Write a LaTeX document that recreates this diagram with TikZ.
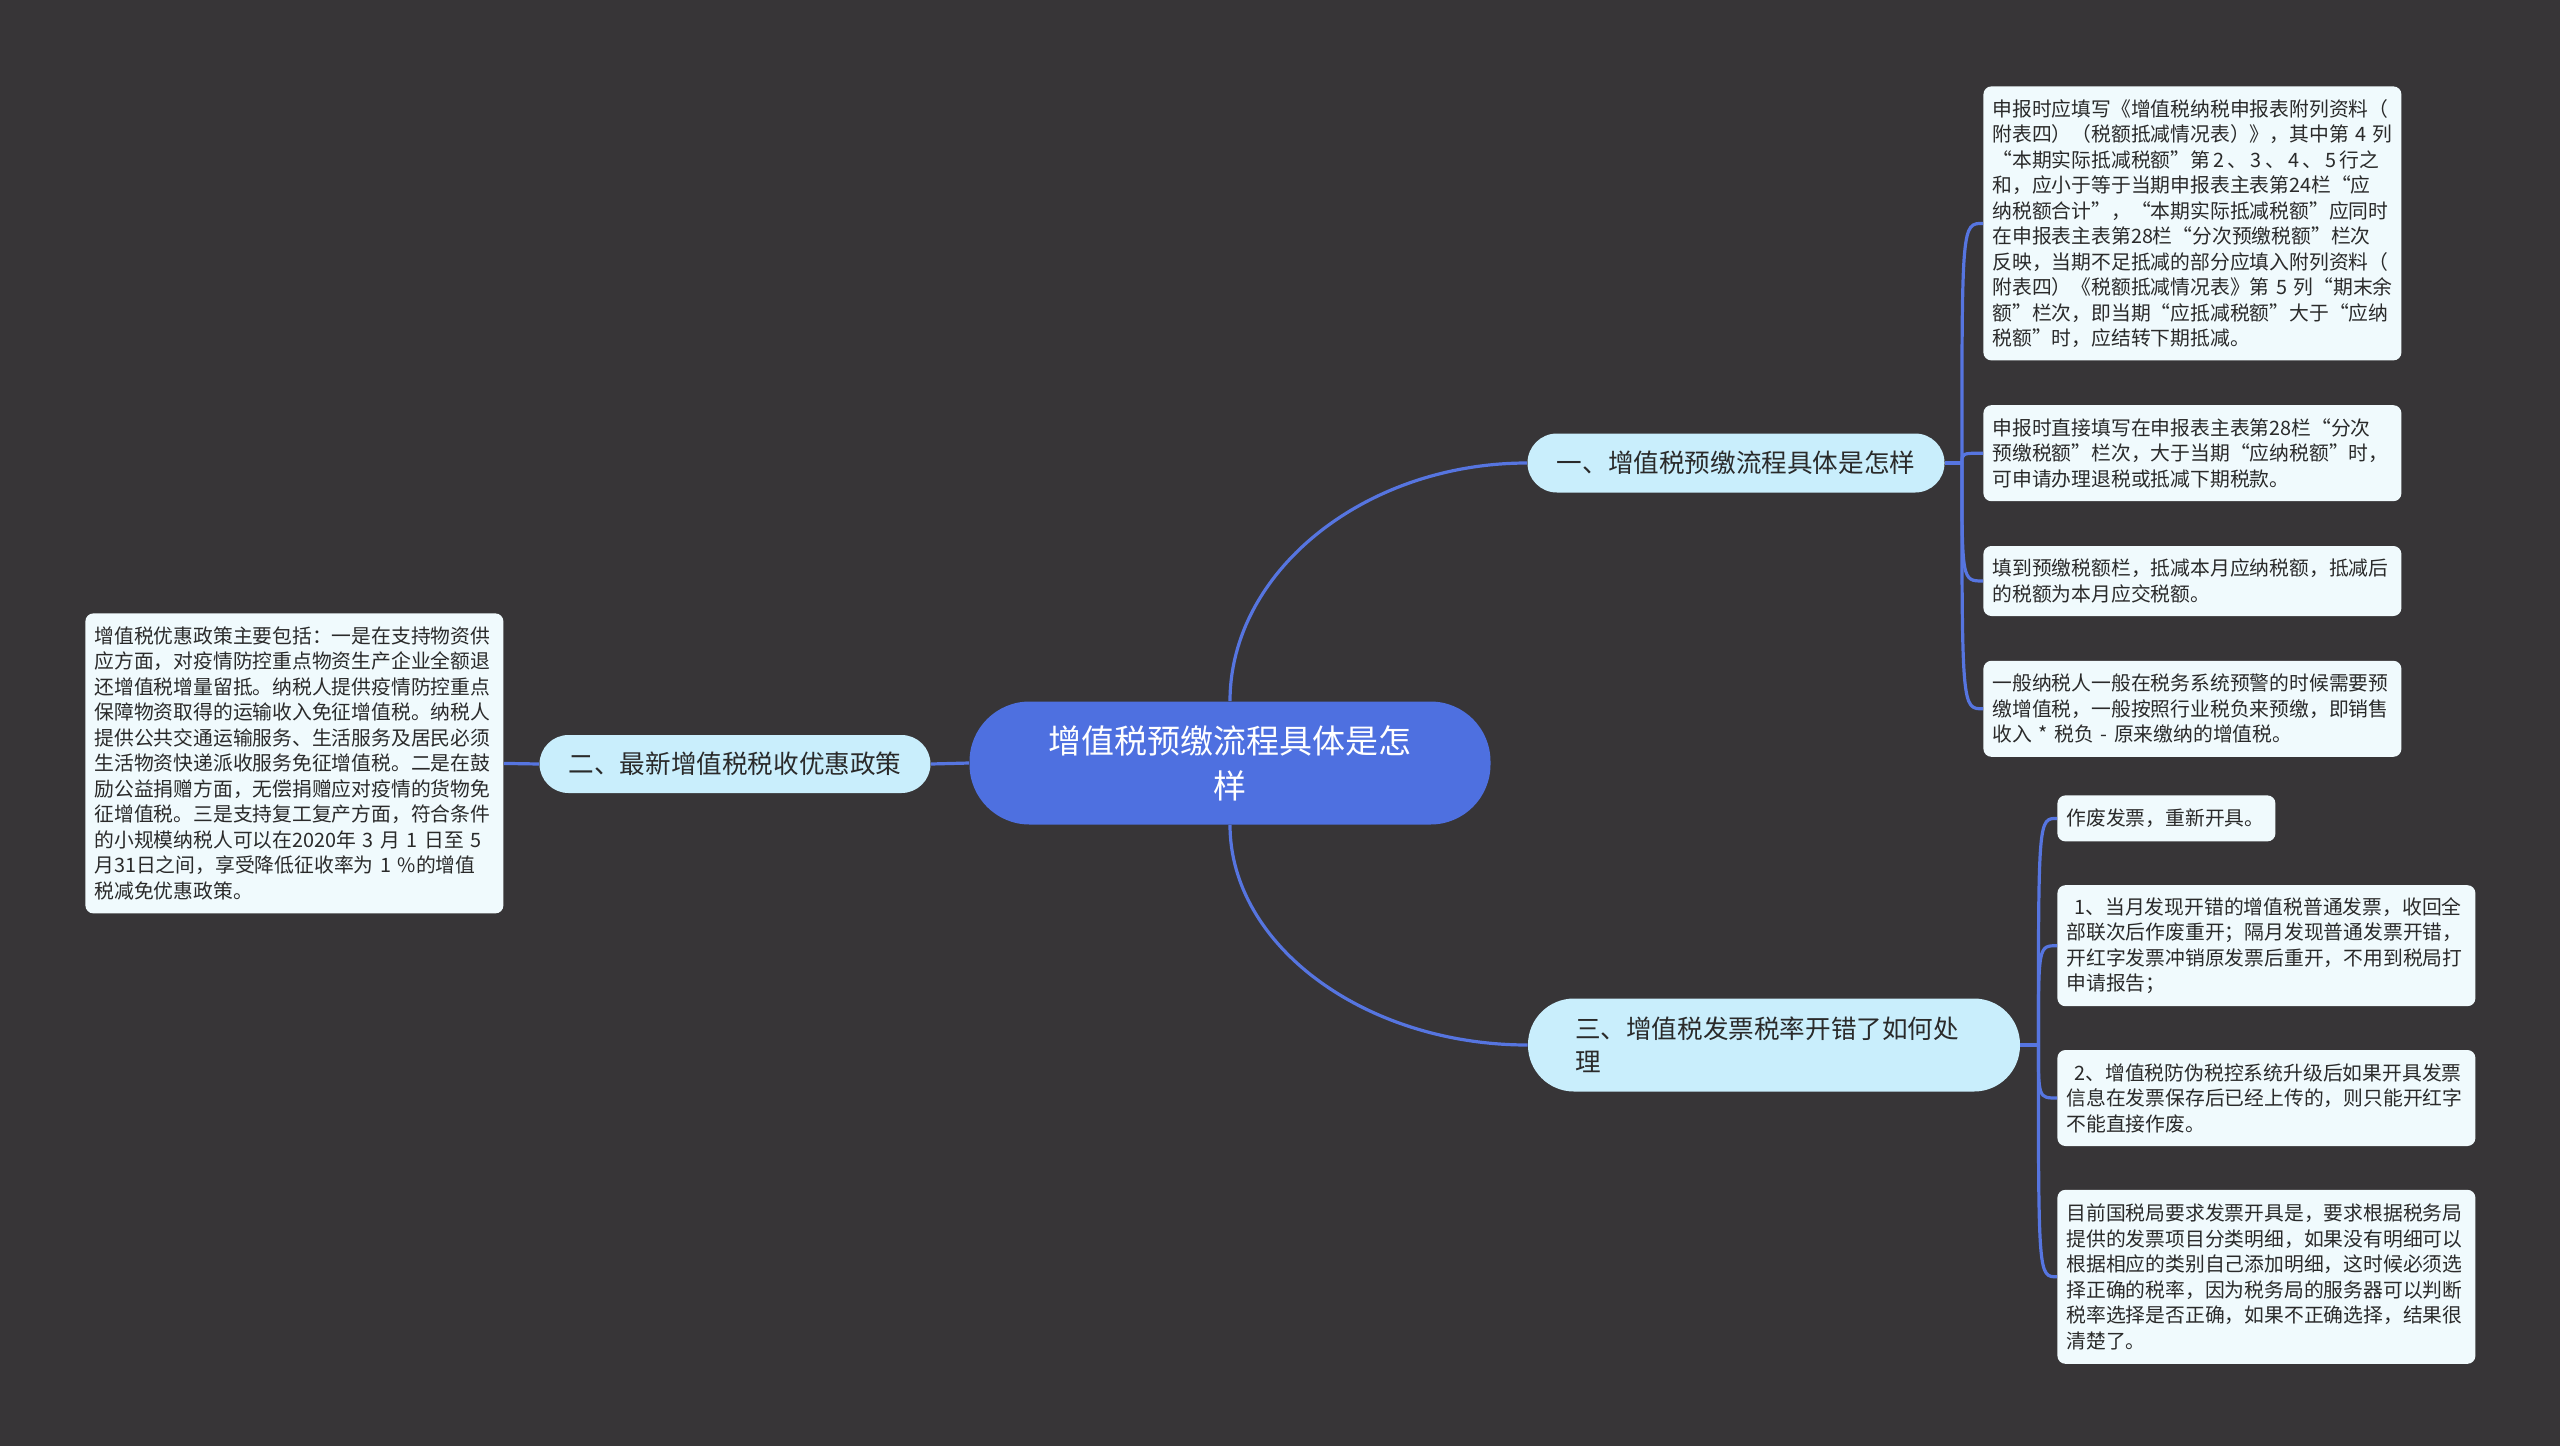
\documentclass[tikz,border=0pt]{standalone}
\usepackage{fontspec}
\setmainfont{Noto Sans CJK SC}
\usepackage{xcolor}
\definecolor{canvas}{HTML}{373537}
\definecolor{hubblue}{HTML}{4E70E0}
\definecolor{linkblue}{HTML}{5675E0}
\definecolor{topicfill}{HTML}{C9EEFC}
\definecolor{leaffill}{HTML}{F0FAFD}
\definecolor{inktext}{HTML}{2A2A2A}
\usetikzlibrary{positioning, calc}

\begin{document}
\begin{tikzpicture}[x=0.5pt, y=-0.5pt]
  \tikzstyle{hubnode}=[rectangle, rounded corners=30pt, fill=hubblue, text=white,
    minimum width=260.5pt, minimum height=61.5pt, align=center, inner sep=0pt,
    font=\fontsize{16.5}{22.5}\selectfont]
  \tikzstyle{topicbox}=[rectangle, fill=topicfill, text=inktext, inner sep=0pt,
    font=\fontsize{12.8}{16.5}\selectfont]
  \tikzstyle{leafbox}=[rectangle, rounded corners=4pt, fill=leaffill, text=inktext,
    text width=200pt, align=left, inner xsep=4.5pt, inner ysep=0pt,
    font=\fontsize{9.9}{12.75}\selectfont]
  \tikzstyle{link}=[line width=1.6pt, color=linkblue]
  \fill[canvas] (0,0) rectangle (2560,1446);
  % centre and main topics
  \node[hubnode] (hub) at (1230,763) {增值税预缴流程具体是怎\\样};
  \node[topicbox, rounded corners=14.7pt, minimum width=208.5pt, minimum height=29.5pt]
    (b1) at (1736,463) {一、增值税预缴流程具体是怎样};
  \node[topicbox, rounded corners=14.5pt, minimum width=195.5pt, minimum height=29pt]
    (b2) at (735,764) {二、最新增值税税收优惠政策};
  \node[topicbox, rounded corners=23pt, minimum width=246pt, minimum height=46.5pt,
    text width=199pt, align=left]
    (b3) at (1774,1045) {三、增值税发票税率开错了如何处\\理};
  % details of topic one
  \node[leafbox, minimum height=137pt, anchor=north west] (l1a) at (1983,86)
    {申报时应填写《增值税纳税申报表附列资料（\\附表四）（税额抵减情况表）》，其中第~4~列\\“本期实际抵减税额”第\,2\,、\,3\,、\,4\,、\,5\,行之\\和，应小于等于当期申报表主表第24栏“应\\纳税额合计”，“本期实际抵减税额”应同时\\在申报表主表第28栏“分次预缴税额”栏次\\反映，当期不足抵减的部分应填入附列资料（\\附表四）《税额抵减情况表》第~5~列“期末余\\额”栏次，即当期“应抵减税额”大于“应纳\\税额”时，应结转下期抵减。};
  \node[leafbox, minimum height=48pt, below=22pt of l1a] (l1b)
    {申报时直接填写在申报表主表第28栏“分次\\预缴税额”栏次，大于当期“应纳税额”时，\\可申请办理退税或抵减下期税款。};
  \node[leafbox, minimum height=35pt, below=22pt of l1b] (l1c)
    {填到预缴税额栏，抵减本月应纳税额，抵减后\\的税额为本月应交税额。};
  \node[leafbox, minimum height=48pt, below=22pt of l1c] (l1d)
    {一般纳税人一般在税务系统预警的时候需要预\\缴增值税，一般按照行业税负来预缴，即销售\\收入~*~税负~-~原来缴纳的增值税。};
  % details of topic two
  \node[leafbox, minimum height=150pt, anchor=north west] (l2) at (85,613)
    {增值税优惠政策主要包括：一是在支持物资供\\应方面，对疫情防控重点物资生产企业全额退\\还增值税增量留抵。纳税人提供疫情防控重点\\保障物资取得的运输收入免征增值税。纳税人\\提供公共交通运输服务、生活服务及居民必须\\生活物资快递派收服务免征增值税。二是在鼓\\励公益捐赠方面，无偿捐赠应对疫情的货物免\\征增值税。三是支持复工复产方面，符合条件\\的小规模纳税人可以在2020年~3~月~1~日至~5\\月31日之间，享受降低征收率为~1~\%的增值\\税减免优惠政策。};
  % details of topic three
  \node[leafbox, text width=100pt, minimum height=23pt, anchor=north west] (l3a) at (2057,795)
    {作废发票，重新开具。};
  \node[leafbox, minimum height=60.5pt, below=21.5pt of l3a.south west, anchor=north west] (l3b)
    {\hspace*{4pt}1、当月发现开错的增值税普通发票，收回全\\部联次后作废重开；隔月发现普通发票开错，\\开红字发票冲销原发票后重开，不用到税局打\\申请报告；};
  \node[leafbox, minimum height=48pt, below=21.5pt of l3b] (l3c)
    {\hspace*{4pt}2、增值税防伪税控系统升级后如果开具发票\\信息在发票保存后已经上传的，则只能开红字\\不能直接作废。};
  \node[leafbox, minimum height=87pt, below=21.5pt of l3c] (l3d)
    {目前国税局要求发票开具是，要求根据税务局\\提供的发票项目分类明细，如果没有明细可以\\根据相应的类别自己添加明细，这时候必须选\\择正确的税率，因为税务局的服务器可以判断\\税率选择是否正确，如果不正确选择，结果很\\清楚了。};
  % connectors
  \coordinate (j1) at ($(b1.east)+(17,0)$);
  \coordinate (j3) at ($(b3.east)+(18,0)$);
  \draw[link] (hub.north) .. controls +(0,-130) and +(-162,0) .. (b1.west);
  \draw[link] (hub.south) .. controls +(0,121) and +(-162,0) .. (b3.west);
  \draw[link] (hub.west) -- (b2.east);
  \draw[link] (b2.west) -- (l2.east);
  \draw[link] (b1.east) -- (j1);
  \draw[link] (j1) .. controls (j1 |- l1a.west) .. (l1a.west);
  \draw[link] (j1) .. controls (j1 |- l1b.west) .. (l1b.west);
  \draw[link] (j1) .. controls (j1 |- l1c.west) .. (l1c.west);
  \draw[link] (j1) .. controls (j1 |- l1d.west) .. (l1d.west);
  \draw[link] (b3.east) -- (j3);
  \draw[link] (j3) .. controls (j3 |- l3a.west) .. (l3a.west);
  \draw[link] (j3) .. controls (j3 |- l3b.west) .. (l3b.west);
  \draw[link] (j3) .. controls (j3 |- l3c.west) .. (l3c.west);
  \draw[link] (j3) .. controls (j3 |- l3d.west) .. (l3d.west);
\end{tikzpicture}
\end{document}
